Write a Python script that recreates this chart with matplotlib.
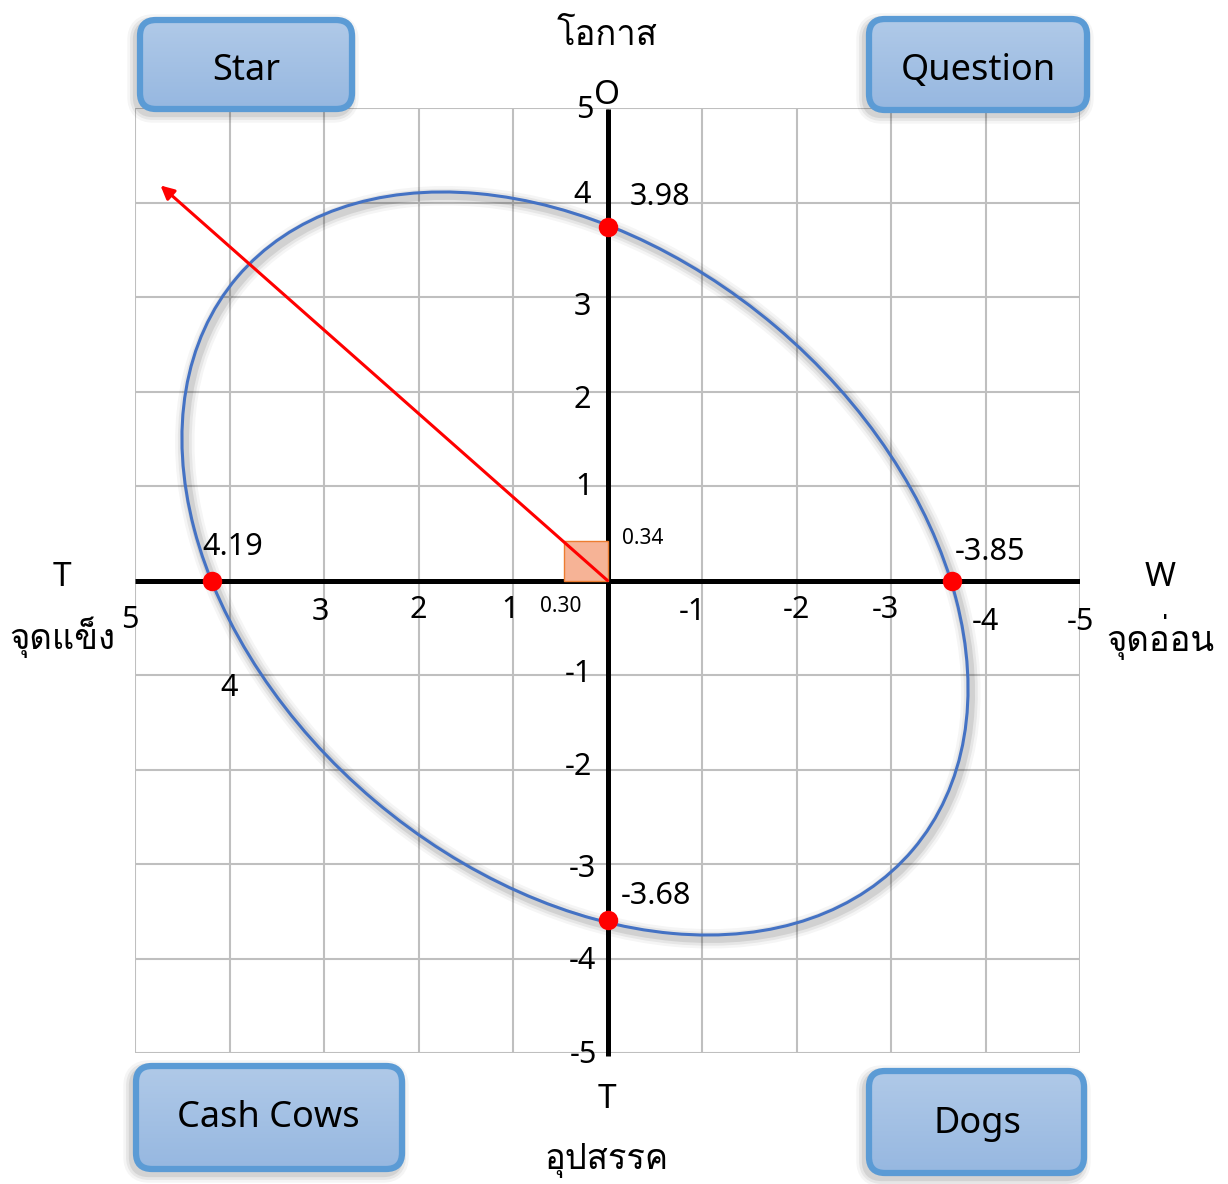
import numpy as np
import matplotlib
matplotlib.use("Agg")
import matplotlib.pyplot as plt
from matplotlib.patches import Ellipse, Rectangle, FancyBboxPatch
from matplotlib import font_manager as fm

# ---------------- data ----------------
tick_values = [5, 4, 3, 2, 1, -1, -2, -3, -4, -5]
xtick_labels = ["5", "4", "3", "2", "1", "-1", "-2", "-3", "-4", "-5"]
ytick_values = [5, 4, 3, 2, 1, -1, -2, -3, -4, -5]
ytick_labels = ["5", "4", "3", "2", "1", "-1", "-2", "-3", "-4", "-5"]

point_x = [4.19, -3.65, 0.0, 0.0]
point_y = [0.0, 0.0, 3.74, -3.59]
point_labels = ["4.19", "-3.85", "3.98", "-3.68"]

ellipse_center = (0.344, 0.18)
ellipse_semi_axes = (4.686, 3.286)
ellipse_angle = 40.25

arrow_tip = (4.73, 4.18)
square_size = (0.46, 0.42)
square_labels = ["0.30", "0.34"]

quadrant_names = ["Star", "Question", "Cash Cows", "Dogs"]
axis_letters = ["O", "T", "W", "T"]
axis_thai = ["โอกาส", "จุดแข็ง", "จุดอ่อน", "อุปสรรค"]

# ---------------- fonts ----------------
latin = "Noto Sans"
thai_family = None
try:
    from fontTools.ttLib import TTFont
    for fe in fm.fontManager.ttflist:
        try:
            f = TTFont(fe.fname, fontNumber=0, lazy=True)
            cm = f.getBestCmap()
            if cm and 0x0E42 in cm and 0x0E2D in cm and 0x0E08 in cm:
                thai_family = fe.name
                break
        except Exception:
            pass
except Exception:
    pass
thai_fonts = ([thai_family] if thai_family else []) + [latin, "DejaVu Sans"]
plt.rcParams["font.family"] = [latin, "DejaVu Sans"]

W, H = 1228, 1184
fig = plt.figure(figsize=(W / 100, H / 100), dpi=100)
fig.patch.set_facecolor("white")

# main axes (pixel grid 135..1080, 108..1053)
ax = fig.add_axes([135 / W, 1 - 1053 / H, (1080 - 135) / W, (1053 - 108) / H])
ax.set_xlim(5, -5)
ax.set_ylim(-5, 5)
ax.set_xticks([])
ax.set_yticks([])
for s in ax.spines.values():
    s.set_visible(False)
ax.set_facecolor("white")

grid_c = "#BFBFBF"
for v in range(-5, 6):
    ax.plot([v, v], [-5, 5], color=grid_c, lw=1.5, zorder=1, solid_capstyle="butt")
    ax.plot([-5, 5], [v, v], color=grid_c, lw=1.5, zorder=1, solid_capstyle="butt")

# axes lines
ax.plot([5, -5], [0, 0], color="black", lw=3.6, zorder=3, solid_capstyle="butt")
ax.plot([0, 0], [-5.03, 4.99], color="black", lw=3.6, zorder=3, solid_capstyle="butt", clip_on=False)

# ellipse glow / shadow
for lw_, al in [(14, 0.04), (10, 0.06), (6, 0.09)]:
    ax.add_patch(Ellipse((ellipse_center[0] - 0.03, ellipse_center[1] - 0.04),
                         2 * ellipse_semi_axes[0], 2 * ellipse_semi_axes[1],
                         angle=ellipse_angle, fill=False, edgecolor="black",
                         lw=lw_, alpha=al, zorder=2))
ax.add_patch(Ellipse(ellipse_center, 2 * ellipse_semi_axes[0], 2 * ellipse_semi_axes[1],
                     angle=ellipse_angle, fill=False, edgecolor="#4472C4", lw=2.2, zorder=4))

# orange square
ax.add_patch(Rectangle((0, 0), square_size[0], square_size[1], facecolor="#F6B396",
                       edgecolor="#ED7D31", lw=1.0, zorder=5))
ax.text(0.50, -0.28, square_labels[0], fontsize=15, ha="center", va="center", zorder=8)
ax.text(-0.375, 0.44, square_labels[1], fontsize=15, ha="center", va="center", zorder=8)

# red arrow
ax.annotate("", xy=arrow_tip, xytext=(0, 0),
            arrowprops=dict(arrowstyle="-|>", color="#FF0000", lw=2.2,
                            mutation_scale=20, shrinkA=0, shrinkB=0), zorder=6)

# red points
ax.plot(point_x, point_y, "o", color="#FF0000", markersize=14, zorder=7, markeredgewidth=0)
label_offsets = [(-0.22, 0.355), (-0.40, 0.30), (-0.555, 0.32), (-0.51, 0.25)]
for x, y, lab, (dx, dy) in zip(point_x, point_y, point_labels, label_offsets):
    ax.text(x + dx, y + dy, lab, fontsize=22, ha="center", va="center", zorder=8)

# tick labels (placed like the reference)
xlab_dx = [0.05, 0.0, 0.04, 0.0, 0.03, 0.1, 0.0, 0.06, 0.0, 0.0]
xlab_y = [-0.42, -1.14, -0.33, -0.31, -0.31, -0.33, -0.31, -0.31, -0.44, -0.44]
for v, lab, dx, yy in zip(tick_values, xtick_labels, xlab_dx, xlab_y):
    ax.text(v + dx, yy, lab, fontsize=22, ha="center", va="center", zorder=8, clip_on=False)
ylab_x = [0.24, 0.27, 0.27, 0.27, 0.25, 0.31, 0.31, 0.27, 0.27, 0.25]
ylab_dy = [-0.02, 0.08, -0.11, -0.09, -0.01, 0.01, 0.03, -0.05, -0.03, -0.02]
for v, lab, xx, dy in zip(ytick_values, ytick_labels, ylab_x, ylab_dy):
    ax.text(xx, v + dy, lab, fontsize=22, ha="center", va="center", zorder=8, clip_on=False)

# ---------------- overlay in pixel coordinates ----------------
ov = fig.add_axes([0, 0, 1, 1], zorder=10)
ov.patch.set_alpha(0)
ov.axis("off")

# axis letters / Thai labels
ov.text(607, 36, axis_thai[0], fontsize=25, ha="center", va="center", family=thai_fonts)
ov.text(607, 95, axis_letters[0], fontsize=24, ha="center", va="center")
ov.text(62, 578, axis_letters[1], fontsize=24, ha="center", va="center")
ov.text(62, 637, axis_thai[1], fontsize=25, ha="center", va="center", family=thai_fonts)
ov.text(1160, 578, axis_letters[2], fontsize=24, ha="center", va="center")
ov.text(1160, 637, axis_thai[2], fontsize=25, ha="center", va="center", family=thai_fonts)
ov.text(607, 1100, axis_letters[3], fontsize=24, ha="center", va="center")
ov.text(607, 1160, axis_thai[3], fontsize=25, ha="center", va="center", family=thai_fonts)

# quadrant boxes
boxes = [(140, 20, 352, 109), (869, 19, 1087, 110), (136, 1066, 402, 1169), (869, 1071, 1084, 1173)]
text_centers = [(246, 71), (978, 71), (268, 1118), (977, 1124)]
grad = np.linspace(0, 1, 100)[:, None]
c_top = np.array([0.69, 0.79, 0.91])
c_bot = np.array([0.59, 0.72, 0.88])
img = (c_top[None, None, :] * (1 - grad[:, :, None]) + c_bot[None, None, :] * grad[:, :, None])
for (x0, y0, x1, y1), name, (tx, ty) in zip(boxes, quadrant_names, text_centers):
    r = 16
    for k, al in [(7, 0.04), (5, 0.06), (3, 0.08)]:
        ov.add_patch(FancyBboxPatch((x0 + r - 3, y0 + r + 4), (x1 - x0) - 2 * r, (y1 - y0) - 2 * r,
                                    boxstyle=f"round,pad={r},rounding_size={r}",
                                    facecolor="none", edgecolor="black", lw=k * 2, alpha=al))
    p = FancyBboxPatch((x0 + r, y0 + r), (x1 - x0) - 2 * r, (y1 - y0) - 2 * r,
                       boxstyle=f"round,pad={r},rounding_size={r}",
                       facecolor="none", edgecolor="#5B9BD5", lw=4.5, zorder=3)
    ov.add_patch(p)
    im = ov.imshow(img, extent=[x0, x1, y1, y0], origin="upper", aspect="auto", zorder=2)
    im.set_clip_path(p)
    ov.text(tx, ty, name, fontsize=26, ha="center", va="center", zorder=4)

ov.set_xlim(0, W)
ov.set_ylim(H, 0)

fig.savefig("out.png", dpi=100)
